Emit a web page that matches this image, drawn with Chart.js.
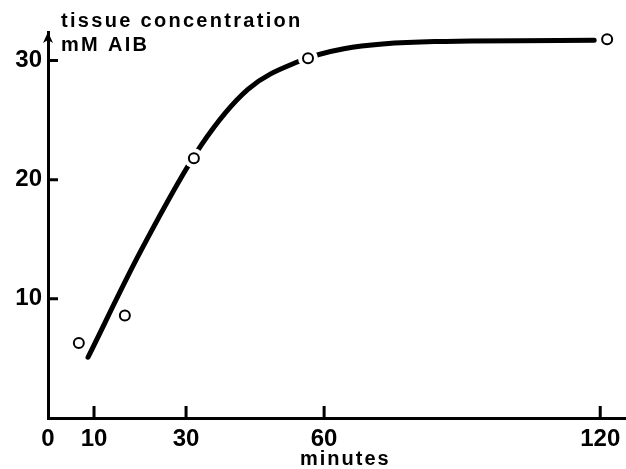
<!DOCTYPE html>
<html>
<head>
<meta charset="utf-8">
<script src="https://cdn.jsdelivr.net/npm/chart.js@4.4.0/dist/chart.umd.min.js"></script>
<style>
html, body { margin: 0; padding: 0; background: #fff; overflow: hidden; }
#wrap { position: relative; width: 626px; height: 469px; }
#wrap canvas { display: block; }
</style>
</head>
<body>
<div id="wrap"><canvas id="chartAib"></canvas></div>
<script>
// tick labels
var xTicks = [0, 10, 30, 60, 120];
var yTicks = [10, 20, 30];

// measured points (open circles)
var obsMinutes = [6.7, 16.7, 31.7, 56.5, 121.5];
var obsConc = [6.3, 8.6, 21.8, 30.2, 31.8];

// hand drawn curve
var fitMinutes = [8.7, 20, 33.3, 43.5, 54.3, 64.3, 84, 118.7];
var fitConc = [5.1, 13.9, 22.9, 27.6, 29.9, 31.0, 31.6, 31.7];

var labelFont = 'bold 20px "Liberation Sans", Arial, sans-serif';
var tickFont = { family: '"Liberation Sans", Arial, sans-serif', size: 24, weight: 'bold' };

var obsData = obsMinutes.map((m, i) => ({ x: m, y: obsConc[i] }));
var haloData = obsMinutes.map((m, i) => ({ x: m, y: obsConc[i] }));
var fitData = fitMinutes.map((m, i) => ({ x: m, y: fitConc[i] }));

// inward ticks, arrow on y axis, axis titles
var axisMarks = {
	id: 'axisMarks',
	afterDraw: function (chart) {
		var ctx = chart.ctx;
		var a = chart.chartArea;
		var sx = chart.scales.x;
		var sy = chart.scales.y;
		ctx.save();
		ctx.strokeStyle = '#000';
		ctx.fillStyle = '#000';
		ctx.lineWidth = 3;
		ctx.beginPath();
		xTicks.forEach(function (v) {
			if (v === 0) return;
			var px = sx.getPixelForValue(v);
			ctx.moveTo(px, a.bottom);
			ctx.lineTo(px, a.bottom - 12);
		});
		yTicks.forEach(function (v) {
			var py = sy.getPixelForValue(v);
			ctx.moveTo(a.left, py);
			ctx.lineTo(a.left + 10, py);
		});
		ctx.stroke();

		ctx.beginPath();
		ctx.moveTo(a.left, a.top);
		ctx.lineTo(a.left - 5, a.top + 11);
		ctx.lineTo(a.left, a.top + 8);
		ctx.lineTo(a.left + 5, a.top + 11);
		ctx.closePath();
		ctx.fill();

		ctx.font = labelFont;
		ctx.letterSpacing = '2.3px';
		ctx.textBaseline = 'alphabetic';
		ctx.textAlign = 'left';
		ctx.fillText('tissue concentration', 61, 27);
		ctx.fillText('mM AIB', 61, 51);
		ctx.letterSpacing = '2px';
		ctx.fillText('minutes', 300, 465);
		ctx.restore();
	}
};

var ca = document.getElementById('chartAib');
var chartAib = new Chart(ca, {
	type: 'scatter',
	data: {
		datasets: [
			{
				data: obsData,
				order: 0,
				showLine: false,
				pointStyle: 'circle',
				pointRadius: 5,
				borderWidth: 2,
				borderColor: '#000',
				backgroundColor: '#fff'
			},
			{
				// white gap round the circles, as in the drawing
				data: haloData,
				order: 1,
				showLine: false,
				pointStyle: 'circle',
				pointRadius: 10,
				borderWidth: 0,
				borderColor: '#fff',
				backgroundColor: '#fff'
			},
			{
				data: fitData,
				order: 2,
				showLine: true,
				borderColor: '#000',
				backgroundColor: '#000',
				borderWidth: 5,
				borderCapStyle: 'round',
				cubicInterpolationMode: 'monotone',
				pointRadius: 0,
				fill: false
			}
		]
	},
	options: {
		responsive: true,
		maintainAspectRatio: false,
		animation: false,
		events: [],
		layout: { autoPadding: false, padding: { top: 32, right: 0, bottom: 0, left: 0 } },
		plugins: {
			legend: { display: false },
			tooltip: { enabled: false }
		},
		scales: {
			x: {
				type: 'linear',
				min: 0,
				max: 125.6,
				grid: { display: false, drawTicks: false },
				border: { display: true, color: '#000', width: 3 },
				afterBuildTicks: function (scale) {
					scale.ticks = xTicks.map(v => ({ value: v }));
				},
				afterFit: function (scale) {
					scale.height = 51;
					scale.paddingLeft = 0;
					scale.paddingRight = 0;
				},
				ticks: {
					color: '#000',
					font: tickFont,
					padding: 7,
					maxRotation: 0,
					autoSkip: false
				}
			},
			y: {
				type: 'linear',
				min: 0,
				max: 32.4,
				grid: { display: false, drawTicks: false },
				border: { display: true, color: '#000', width: 3 },
				afterBuildTicks: function (scale) {
					scale.ticks = yTicks.map(v => ({ value: v }));
				},
				afterFit: function (scale) {
					scale.width = 48;
					scale.paddingTop = 0;
					scale.paddingBottom = 0;
				},
				ticks: {
					color: '#000',
					font: tickFont,
					padding: 6
				}
			}
		}
	},
	plugins: [axisMarks]
});
</script>
</body>
</html>
